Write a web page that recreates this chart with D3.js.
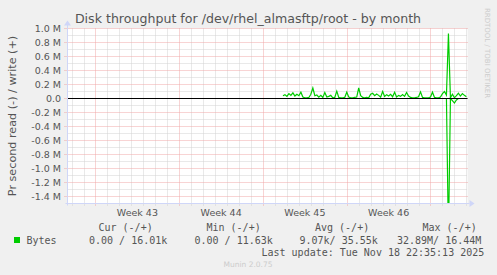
<!DOCTYPE html>
<html>
<head>
<meta charset="utf-8">
<script src="https://cdn.jsdelivr.net/npm/d3@7"></script>
<style>
  body { margin: 0; background: #f0f0f0; }
  svg { display: block; }
</style>
</head>
<body>
<script>
var w = 497, h = 275;

// data, values in kB/s, one sample every 4 hours from Nov 4 16:00
var writeK = [40, 55, 30, 70, 45, 80, 35, 60, 40, 90,
              20, 10, 10, 15, 60, 150, 40, 50, 20, 45,
              15, 85, 20, 30, 45, 10, 15, 105, 15, 10,
              10, 15, 90, 20, 10, 10, 15, 20, 150, 40,
              15, 10, 15, 10, 60, 75, 40, 65, 45, 20,
              100, 30, 55, 35, 60, 25, 90, 20, 45, 30,
              55, 30, 85, 35, 15, 10, 10, 15, 25, 95,
              15, 10, 10, 10, 20, 90, 15, 10, 10, 20,
              70, 100, 50, 930, 10, 60, 10, 40, 75, 35,
              70, 45, 25];
var readK = [0, 0, 0, 0, 0, 0, 0, 0, 0, 0,
             0, 0, 0, 0, 0, 0, 0, 0, 0, 0,
             0, 0, 0, 0, 0, 0, 0, 0, 0, 0,
             0, 0, 0, 0, 0, 0, 0, 0, 0, 0,
             0, 0, 0, 0, 0, 0, 0, 0, 0, 0,
             0, 0, 0, 0, 0, 0, 0, 0, 0, 0,
             0, 0, 0, 0, 0, 0, 0, 0, 0, 0,
             0, 0, 0, 0, 0, 0, 0, 0, 0, 0,
             0, 0, 0, 2000, 0, 30, 65, 20, 0, 0,
             0, 0, 0];
var sampleStart = Date.UTC(2025, 10, 4, 16, 0);
var sampleStep = 4 * 3600 * 1000;

var yTickValues = [1.0, 0.8, 0.6, 0.4, 0.2, 0.0, -0.2, -0.4, -0.6, -0.8, -1.0, -1.2, -1.4];
var yTickLabels = ["1.0 M", "0.8 M", "0.6 M", "0.4 M", "0.2 M", "0.0", "-0.2 M", "-0.4 M",
                   "-0.6 M", "-0.8 M", "-1.0 M", "-1.2 M", "-1.4 M"];
var weekLabels = ["Week 43", "Week 44", "Week 45", "Week 46"];
var legendHeads = ["Cur (-/+)", "Min (-/+)", "Avg (-/+)", "Max (-/+)"];
var legendVals = ["0.00 / 16.01k", "0.00 / 11.63k", "9.07k/ 35.55k", "32.89M/ 16.44M"];

var t0 = new Date(Date.UTC(2025, 9, 17, 15, 50));
var t1 = new Date(Date.UTC(2025, 10, 20, 2, 14));

var pLeft = 67.5, pRight = 467.5, pTop = 28.5, pBottom = 203.5;

var x = d3.scaleUtc().domain([t0, t1]).range([pLeft, pRight]);
var y = d3.scaleLinear().domain([-1.5, 1.0]).range([pBottom, pTop]);

var svg = d3.select("body")
            .append("svg")
            .attr("width", w)
            .attr("height", h);

svg.append("rect").attr("width", w).attr("height", h).attr("fill", "#f0f0f0");
svg.append("rect")
  .attr("x", pLeft).attr("y", pTop)
  .attr("width", pRight - pLeft).attr("height", pBottom - pTop)
  .attr("fill", "white");

svg.append("defs").append("clipPath").attr("id", "plot")
  .append("rect")
  .attr("x", pLeft).attr("y", pTop - 2)
  .attr("width", pRight - pLeft).attr("height", pBottom - pTop + 2);

// minor grid
var days = d3.utcDay.range(d3.utcDay.ceil(t0), t1);
var mondays = d3.utcMonday.range(t0, t1);
var minorDays = days.filter(function(d) { return d.getUTCDay() != 1; });

svg.selectAll("line.vminor")
  .data(minorDays)
  .enter()
  .append("line")
  .attr("class", "vminor")
  .attr("x1", function(d) { return Math.round(x(d)) + 0.5; })
  .attr("x2", function(d) { return Math.round(x(d)) + 0.5; })
  .attr("y1", pTop).attr("y2", pBottom + 2)
  .attr("stroke", "#d2d2d2")
  .attr("stroke-dasharray", "1,1");

var minorY = d3.range(-15, 11).filter(function(v) { return v % 2 != 0; }).map(function(v) { return v / 10; });
svg.selectAll("line.hminor")
  .data(minorY)
  .enter()
  .append("line")
  .attr("class", "hminor")
  .attr("x1", pLeft).attr("x2", pRight)
  .attr("y1", function(d) { return y(d); })
  .attr("y2", function(d) { return y(d); })
  .attr("stroke", "#d2d2d2")
  .attr("stroke-dasharray", "1,1");

// major grid
svg.selectAll("line.vmajor")
  .data(mondays)
  .enter()
  .append("line")
  .attr("class", "vmajor")
  .attr("x1", function(d) { return Math.round(x(d)) + 0.5; })
  .attr("x2", function(d) { return Math.round(x(d)) + 0.5; })
  .attr("y1", pTop).attr("y2", pBottom + 3)
  .attr("stroke", "#f0a8a8")
  .attr("stroke-dasharray", "1,1");

svg.selectAll("line.hmajor")
  .data(yTickValues)
  .enter()
  .append("line")
  .attr("class", "hmajor")
  .attr("x1", pLeft - 3).attr("x2", pRight)
  .attr("y1", function(d) { return y(d); })
  .attr("y2", function(d) { return y(d); })
  .attr("stroke", "#f0a8a8")
  .attr("stroke-dasharray", "1,1");

// series
var line = d3.line()
  .x(function(d, i) { return x(new Date(sampleStart + i * sampleStep)); })
  .y(function(d) { return y(d); });

var g = svg.append("g").attr("clip-path", "url(#plot)");
g.append("path")
  .attr("d", line(readK.map(function(v) { return -v / 1000; })))
  .attr("fill", "none")
  .attr("stroke", "#00cc00")
  .attr("stroke-width", 1.2);
g.append("path")
  .attr("d", line(writeK.map(function(v) { return v / 1000; })))
  .attr("fill", "none")
  .attr("stroke", "#00cc00")
  .attr("stroke-width", 1.2);

// zero line
svg.append("line")
  .attr("x1", pLeft).attr("x2", pRight)
  .attr("y1", y(0)).attr("y2", y(0))
  .attr("stroke", "black");

// axes
svg.append("line")
  .attr("x1", pLeft).attr("x2", pLeft)
  .attr("y1", pTop - 4).attr("y2", pBottom + 2)
  .attr("stroke", "#cfd6f8");
svg.append("line")
  .attr("x1", pLeft - 2).attr("x2", pRight + 2)
  .attr("y1", pBottom).attr("y2", pBottom)
  .attr("stroke", "#cfd6f8");
svg.append("path")
  .attr("d", "M" + (pRight + 2) + "," + (pBottom - 3.5) + "L" + (pRight + 7) + "," + pBottom + "L" + (pRight + 2) + "," + (pBottom + 3.5) + "Z")
  .attr("fill", "#cfd6f8");
svg.append("path")
  .attr("d", "M" + (pLeft - 3.5) + "," + (pTop - 3) + "L" + pLeft + "," + (pTop - 8) + "L" + (pLeft + 3.5) + "," + (pTop - 3) + "Z")
  .attr("fill", "#cfd6f8");

// labels
svg.selectAll("text.ytick")
  .data(yTickValues)
  .enter()
  .append("text")
  .attr("class", "ytick")
  .text(function(d, i) { return yTickLabels[i]; })
  .attr("x", 61)
  .attr("y", function(d) { return y(d) + 3.5; })
  .attr("text-anchor", "end")
  .attr("font-family", "DejaVu Sans")
  .attr("font-size", "9.5px")
  .attr("fill", "#555");

svg.selectAll("text.week")
  .data(mondays.slice(0, weekLabels.length))
  .enter()
  .append("text")
  .attr("class", "week")
  .text(function(d, i) { return weekLabels[i]; })
  .attr("x", function(d) { return x(d3.utcHour.offset(d, 84)); })
  .attr("y", 216)
  .attr("text-anchor", "middle")
  .attr("font-family", "DejaVu Sans")
  .attr("font-size", "9.5px")
  .attr("fill", "#555");

svg.append("text")
  .text("Disk throughput for /dev/rhel_almasftp/root - by month")
  .attr("x", 248).attr("y", 23)
  .attr("text-anchor", "middle")
  .attr("font-family", "DejaVu Sans")
  .attr("font-size", "12.6px")
  .attr("fill", "#555");

svg.append("text")
  .text("Pr second read (-) / write (+)")
  .attr("transform", "translate(15.5,116) rotate(-90)")
  .attr("text-anchor", "middle")
  .attr("font-family", "DejaVu Sans")
  .attr("font-size", "11.2px")
  .attr("fill", "#555");

svg.append("text")
  .text("RRDTOOL / TOBI OETIKER")
  .attr("transform", "translate(485,53) rotate(90)")
  .attr("text-anchor", "middle")
  .attr("font-family", "DejaVu Sans")
  .attr("font-size", "7px")
  .attr("fill", "#cccccc");

// legend
var legendX = [98.5, 206.5, 315, 422.5];
var valX = [89, 194.5, 299.5, 397];
svg.selectAll("text.lhead")
  .data(legendHeads)
  .enter()
  .append("text")
  .attr("class", "lhead")
  .text(function(d) { return d; })
  .attr("x", function(d, i) { return legendX[i]; })
  .attr("y", 231)
  .attr("font-family", "DejaVu Sans Mono")
  .attr("font-size", "10px")
  .attr("fill", "#555");

svg.append("rect")
  .attr("x", 14).attr("y", 237)
  .attr("width", 6).attr("height", 6)
  .attr("fill", "#00cc00");
svg.append("text")
  .text("Bytes")
  .attr("x", 26.5).attr("y", 243.5)
  .attr("font-family", "DejaVu Sans Mono")
  .attr("font-size", "10px")
  .attr("fill", "#555");

svg.selectAll("text.lval")
  .data(legendVals)
  .enter()
  .append("text")
  .attr("class", "lval")
  .text(function(d) { return d; })
  .attr("x", function(d, i) { return valX[i]; })
  .attr("y", 243.5)
  .attr("font-family", "DejaVu Sans Mono")
  .attr("font-size", "10px")
  .attr("fill", "#555");

svg.append("text")
  .text("Last update: Tue Nov 18 22:35:13 2025")
  .attr("x", 261.5).attr("y", 255.5)
  .attr("font-family", "DejaVu Sans Mono")
  .attr("font-size", "10px")
  .attr("fill", "#555");

svg.append("text")
  .text("Munin 2.0.75")
  .attr("x", 248).attr("y", 267)
  .attr("text-anchor", "middle")
  .attr("font-family", "DejaVu Sans")
  .attr("font-size", "7.5px")
  .attr("fill", "#cccccc");
</script>
</body>
</html>
